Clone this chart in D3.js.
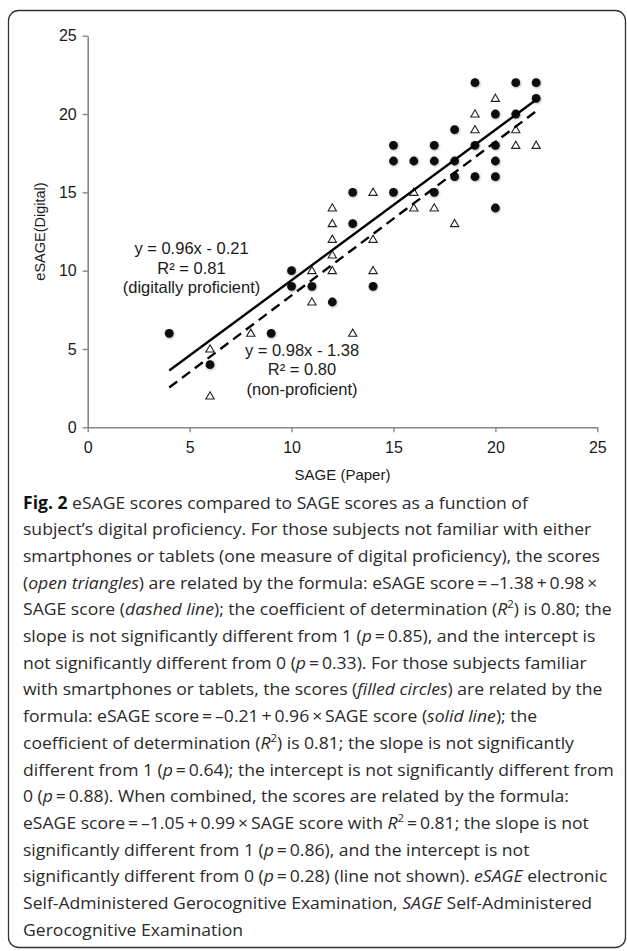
<!DOCTYPE html>
<html>
<head>
<meta charset="utf-8">
<script src="https://cdn.jsdelivr.net/npm/d3@7"></script>
<style>
  html, body { margin: 0; padding: 0; background: #fff; }
  svg { display: block; }
</style>
</head>
<body>
<svg id="chart" width="627" height="951"></svg>
<script>
// ---------- data ----------
const proficientX = [4, 6, 9, 10, 10, 11, 12, 13, 13, 14, 15, 15, 15, 16, 17, 17, 17, 18, 18, 18, 19, 19, 19, 20, 20, 20, 20, 20, 21, 21, 22, 22];
const proficientY = [6, 4, 6, 10, 9, 9, 8, 13, 15, 9, 15, 17, 18, 17, 18, 17, 15, 19, 17, 16, 22, 18, 16, 20, 18, 17, 16, 14, 22, 20, 22, 21];
const nonProfX = [6, 6, 8, 11, 11, 12, 12, 12, 12, 12, 13, 14, 14, 14, 16, 16, 17, 18, 19, 19, 20, 21, 21, 22];
const nonProfY = [5, 2, 6, 10, 8, 14, 13, 12, 11, 10, 6, 15, 12, 10, 15, 14, 14, 13, 20, 19, 21, 19, 18, 18];
const fitProficient = { slope: 0.96, intercept: -0.21, from: 4, to: 22 };
const fitNonProf = { slope: 0.98, intercept: -1.38, from: 4, to: 22 };
const xTicks = [0, 5, 10, 15, 20, 25];
const yTicks = [0, 5, 10, 15, 20, 25];
const labelProficient = ["y = 0.96x - 0.21", "R\u00B2 = 0.81", "(digitally proficient)"];
const labelNonProf = ["y = 0.98x - 1.38", "R\u00B2 = 0.80", "(non-proficient)"];
const xTitle = "SAGE (Paper)";
const yTitle = "eSAGE(Digital)";
const T = "\u2009";
const captionLines = [
  [["Fig. 2", "b"], [" eSAGE scores compared to SAGE scores as a function of", ""]],
  [["subject\u2019s digital proficiency. For those subjects not familiar with either", ""]],
  [["smartphones or tablets (one measure of digital proficiency), the scores", ""]],
  [["(", ""], ["open triangles", "i"], [") are related by the formula: eSAGE score" + T + "=" + T + "\u20131.38" + T + "+" + T + "0.98" + T + "\u00D7", ""]],
  [["SAGE score (", ""], ["dashed line", "i"], ["); the coefficient of determination (", ""], ["R", "i"], ["2", "sup"], [") is 0.80; the", ""]],
  [["slope is not significantly different from 1 (", ""], ["p", "i"], [T + "=" + T + "0.85), and the intercept is", ""]],
  [["not significantly different from 0 (", ""], ["p", "i"], [T + "=" + T + "0.33). For those subjects familiar", ""]],
  [["with smartphones or tablets, the scores (", ""], ["filled circles", "i"], [") are related by the", ""]],
  [["formula: eSAGE score" + T + "=" + T + "\u20130.21" + T + "+" + T + "0.96" + T + "\u00D7" + T + "SAGE score (", ""], ["solid line", "i"], ["); the", ""]],
  [["coefficient of determination (", ""], ["R", "i"], ["2", "sup"], [") is 0.81; the slope is not significantly", ""]],
  [["different from 1 (", ""], ["p", "i"], [T + "=" + T + "0.64); the intercept is not significantly different from", ""]],
  [["0 (", ""], ["p", "i"], [T + "=" + T + "0.88). When combined, the scores are related by the formula:", ""]],
  [["eSAGE score" + T + "=" + T + "\u20131.05" + T + "+" + T + "0.99" + T + "\u00D7" + T + "SAGE score with ", ""], ["R", "i"], ["2", "sup"], [T + "=" + T + "0.81; the slope is not", ""]],
  [["significantly different from 1 (", ""], ["p", "i"], [T + "=" + T + "0.86), and the intercept is not", ""]],
  [["significantly different from 0 (", ""], ["p", "i"], [T + "=" + T + "0.28) (line not shown). ", ""], ["eSAGE", "i"], [" electronic", ""]],
  [["Self-Administered Gerocognitive Examination, ", ""], ["SAGE", "i"], [" Self-Administered", ""]],
  [["Gerocognitive Examination", ""]]
];

// ---------- layout ----------
const svg = d3.select("#chart");
const chartFont = "'Liberation Sans', Arial, Helvetica, sans-serif";
const x = d3.scaleLinear().domain([0, 25]).range([87.7, 597.3]);
const y = d3.scaleLinear().domain([0, 25]).range([427.3, 35.7]);

// frame
svg.append("rect")
  .attr("x", 8.5).attr("y", 10.5).attr("width", 617).attr("height", 937)
  .attr("rx", 10).attr("ry", 10)
  .attr("fill", "none").attr("stroke", "#333").attr("stroke-width", 1.3);

// shadow filter
const defs = svg.append("defs");
const f = defs.append("filter").attr("id", "sh").attr("x", "-50%").attr("y", "-50%").attr("width", "200%").attr("height", "200%");
f.append("feDropShadow").attr("dx", 0.6).attr("dy", 0.8).attr("stdDeviation", 0.9)
  .attr("flood-color", "#000").attr("flood-opacity", 0.35);

// axes
const gx = svg.append("g").attr("transform", `translate(0,${y(0)})`)
  .call(d3.axisBottom(x).tickValues(xTicks).tickSize(5).tickSizeOuter(0).tickPadding(9));
const gy = svg.append("g").attr("transform", `translate(${x(0)},0)`)
  .call(d3.axisLeft(y).tickValues(yTicks).tickSize(5).tickSizeOuter(0).tickPadding(6));
[gx, gy].forEach(g => {
  g.select(".domain").attr("stroke", "#858585").attr("stroke-width", 1.6);
  g.selectAll(".tick line").attr("stroke", "#858585").attr("stroke-width", 1.4);
  g.selectAll(".tick text").attr("fill", "#1a1a1a").style("font-family", chartFont).style("font-size", "16px");
});

// axis titles
svg.append("text").attr("x", (x(0) + x(25)) / 2).attr("y", 479.5)
  .attr("text-anchor", "middle").style("font-family", chartFont).style("font-size", "15px")
  .attr("fill", "#1a1a1a").text(xTitle);
svg.append("text").attr("transform", `translate(45,${(y(0) + y(25)) / 2}) rotate(-90)`)
  .attr("text-anchor", "middle").style("font-family", chartFont).style("font-size", "14.5px")
  .attr("fill", "#1a1a1a").text(yTitle);

// points: triangles
const tri = d3.symbol().type(d3.symbolTriangle).size(30);
svg.append("g").selectAll("path").data(nonProfX.map((v, i) => [v, nonProfY[i]])).join("path")
  .attr("d", tri)
  .attr("transform", d => `translate(${x(d[0])},${y(d[1]) + 0.6})`)
  .attr("fill", "#fff").attr("stroke", "#222").attr("stroke-width", 1.1);

// points: circles
svg.append("g").attr("filter", "url(#sh)").selectAll("circle")
  .data(proficientX.map((v, i) => [v, proficientY[i]])).join("circle")
  .attr("cx", d => x(d[0])).attr("cy", d => y(d[1])).attr("r", 4.4)
  .attr("fill", "#0d0d0d");

// trend lines
const line = d3.line().x(d => x(d[0])).y(d => y(d[1]));
function fitPts(fit) {
  return [fit.from, fit.to].map(v => [v, fit.slope * v + fit.intercept]);
}
svg.append("path").attr("d", line(fitPts(fitProficient)))
  .attr("fill", "none").attr("stroke", "#000").attr("stroke-width", 2.4);
svg.append("path").attr("d", line(fitPts(fitNonProf)))
  .attr("fill", "none").attr("stroke", "#000").attr("stroke-width", 2.4)
  .attr("stroke-dasharray", "10,6");

// annotations
function annot(lines, cx, y0) {
  svg.append("g").selectAll("text").data(lines).join("text")
    .attr("x", cx).attr("y", (d, i) => y0 + i * 19.5)
    .attr("text-anchor", "middle").style("font-family", chartFont).style("font-size", "16.5px")
    .attr("fill", "#1a1a1a").text(d => d);
}
annot(labelProficient, 191.5, 254);
annot(labelNonProf, 302, 355.5);

// caption
const capFont = "'Open Sans', 'Noto Sans', sans-serif";
const capG = svg.append("g");
const texts = captionLines.map((segs, i) => {
  const t = capG.append("text")
    .attr("transform", `translate(23,${508.5 + i * 26.7})`)
    .style("font-family", capFont).style("font-size", "17px").attr("fill", "#2a2a2a");
  segs.forEach(([s, st]) => {
    const ts = t.append("tspan").text(s);
    if (st === "b") ts.style("font-weight", "bold").attr("fill", "#111");
    if (st === "i") ts.style("font-style", "italic");
    if (st === "sup") ts.style("font-size", "11px").attr("baseline-shift", "super").style("font-style", "normal");
  });
  return t;
});
const ref = texts[10].node().getComputedTextLength();
const k = 591 / ref;
texts.forEach((t, i) => t.attr("transform", `translate(23,${508.5 + i * 26.7}) scale(${k},1)`));
</script>
</body>
</html>
